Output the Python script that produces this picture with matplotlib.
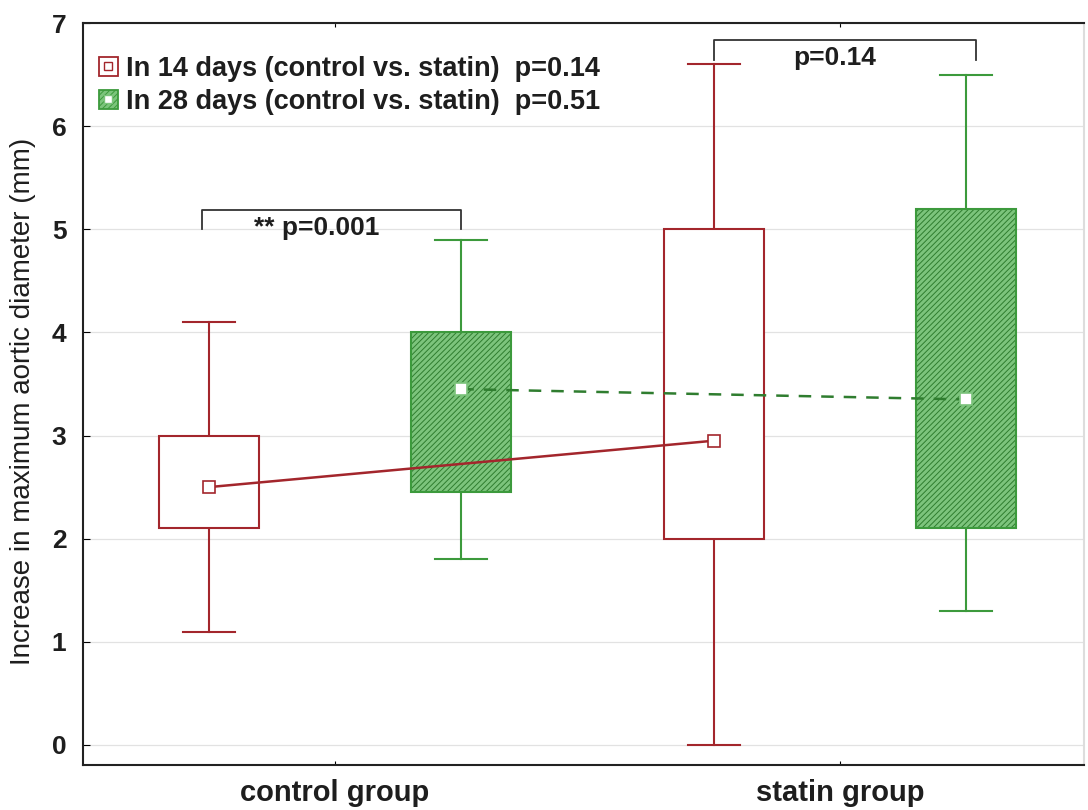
import numpy as np
import matplotlib.pyplot as plt
from matplotlib.patches import Rectangle
from matplotlib.lines import Line2D
from matplotlib.legend_handler import HandlerTuple

plt.rcParams['font.family'] = ['Liberation Sans', 'DejaVu Sans']
plt.rcParams['hatch.linewidth'] = 0.7

# Data
groups = ['control group', 'statin group']
offset = [-0.25, 0.25]   # 14 days, 28 days
labels = ['In 14 days (control vs. statin)  p=0.14',
          'In 28 days (control vs. statin)  p=0.51']

# per series: [control, statin]
mid_14 = [2.5, 2.95]
box_lo_14 = [2.1, 2.0]
box_hi_14 = [3.0, 5.0]
wh_lo_14 = [1.1, 0.0]
wh_hi_14 = [4.1, 6.6]

mid_28 = [3.45, 3.35]
box_lo_28 = [2.45, 2.1]
box_hi_28 = [4.0, 5.2]
wh_lo_28 = [1.8, 1.3]
wh_hi_28 = [4.9, 6.5]

red = '#a3262c'
green = '#3c9a3c'
green_face = '#7cc47c'
green_hatch = '#2f7d2f'
txt = '#1e1e1e'

fig = plt.figure(figsize=(10.88, 8.1), dpi=100)
ax = fig.add_axes([0.0763, 0.0556, 0.920, 0.916])

xpos = np.arange(len(groups))
bw = 0.198
cw = 0.103


def draw_series(xs, lo, hi, wlo, whi, line, face, hatch, hcol):
    for x, a, b, c, d in zip(xs, lo, hi, wlo, whi):
        ax.plot([x, x], [b, d], color=line, lw=1.5, zorder=2)
        ax.plot([x, x], [c, a], color=line, lw=1.5, zorder=2)
        ax.plot([x - cw / 2, x + cw / 2], [d, d], color=line, lw=1.5, zorder=2)
        ax.plot([x - cw / 2, x + cw / 2], [c, c], color=line, lw=1.5, zorder=2)
        if hatch:
            ax.add_patch(Rectangle((x - bw / 2, a), bw, b - a, facecolor=face,
                                   edgecolor=hcol, hatch='//////', lw=0, zorder=3))
        else:
            ax.add_patch(Rectangle((x - bw / 2, a), bw, b - a, facecolor=face,
                                   lw=0, zorder=3))
        ax.add_patch(Rectangle((x - bw / 2, a), bw, b - a, facecolor='none',
                               edgecolor=line, lw=1.5, zorder=4))


x14 = xpos + offset[0]
x28 = xpos + offset[1]
draw_series(x14, box_lo_14, box_hi_14, wh_lo_14, wh_hi_14, red, 'white', False, None)
draw_series(x28, box_lo_28, box_hi_28, wh_lo_28, wh_hi_28, green, green_face, True, green_hatch)

ax.plot(x14, mid_14, color=red, lw=1.8, zorder=5)
ax.plot(x14, mid_14, 's', ms=8, mfc='white', mec=red, mew=1.2, zorder=6)
ax.plot(x28, mid_28, color=green_hatch, lw=1.8, ls=(0, (5, 4)), zorder=5)
ax.plot(x28, mid_28, 's', ms=8, mfc='white', mec=green_face, mew=1.2, zorder=6)


# significance brackets
def bracket(x1, x2, y_top, y_bot, text, shift):
    ax.plot([x1, x1, x2, x2], [y_bot, y_top, y_top, y_bot], color='#333333', lw=1.3, zorder=5)
    ax.text((x1 + x2) / 2 + shift, y_top - 0.06, text, ha='center', va='top',
            fontsize=19, fontweight='bold', color=txt, zorder=6)


bracket(x14[0] - 0.013, x28[0], 5.19, 5.0, '** p=0.001', -0.03)
bracket(x14[1], x28[1] + 0.02, 6.84, 6.64, 'p=0.14', -0.02)

# legend
h14 = (Rectangle((0, 0), 1, 1, facecolor='white', edgecolor=red, lw=1.3),
       Line2D([], [], marker='s', ms=6, mfc='white', mec=red, ls='none'))
h28 = (Rectangle((0, 0), 1, 1, facecolor=green_face, edgecolor=green, hatch='//////', lw=1.3),
       Line2D([], [], marker='s', ms=6, mfc='white', mec=green_face, ls='none'))
ax.legend([h14, h28], labels, handler_map={tuple: HandlerTuple(ndivide=1)},
          loc='upper left', bbox_to_anchor=(-0.006, 0.985), frameon=False,
          handlelength=0.7, handleheight=0.7, handletextpad=0.3, labelspacing=0.25,
          borderpad=0.3, prop={'size': 19.5, 'weight': 'bold'}, labelcolor=txt)

ax.set_xlim(-0.499, 1.483)
ax.set_ylim(-0.194, 7)
ax.set_xticks(xpos)
ax.set_xticklabels(groups, fontsize=21, fontweight='bold', color=txt)
ax.set_yticks(range(8))
ax.set_yticklabels([str(i) for i in range(8)], fontsize=19, fontweight='bold', color=txt)
ax.tick_params(axis='x', length=3, direction='in', top=True, pad=10)
ax.tick_params(axis='y', length=5, direction='in', pad=12)
ax.set_ylabel('Increase in maximum aortic diameter (mm)', fontsize=20, color=txt)
ax.yaxis.set_label_coords(-0.047, 0.49)
ax.grid(axis='y', color='#e2e2e2', lw=0.9, zorder=0)
ax.set_axisbelow(True)
for s in ax.spines.values():
    s.set_linewidth(1.5)
    s.set_color('#222222')
ax.spines['right'].set_color('#dddddd')

fig.savefig('out.png', dpi=100)
